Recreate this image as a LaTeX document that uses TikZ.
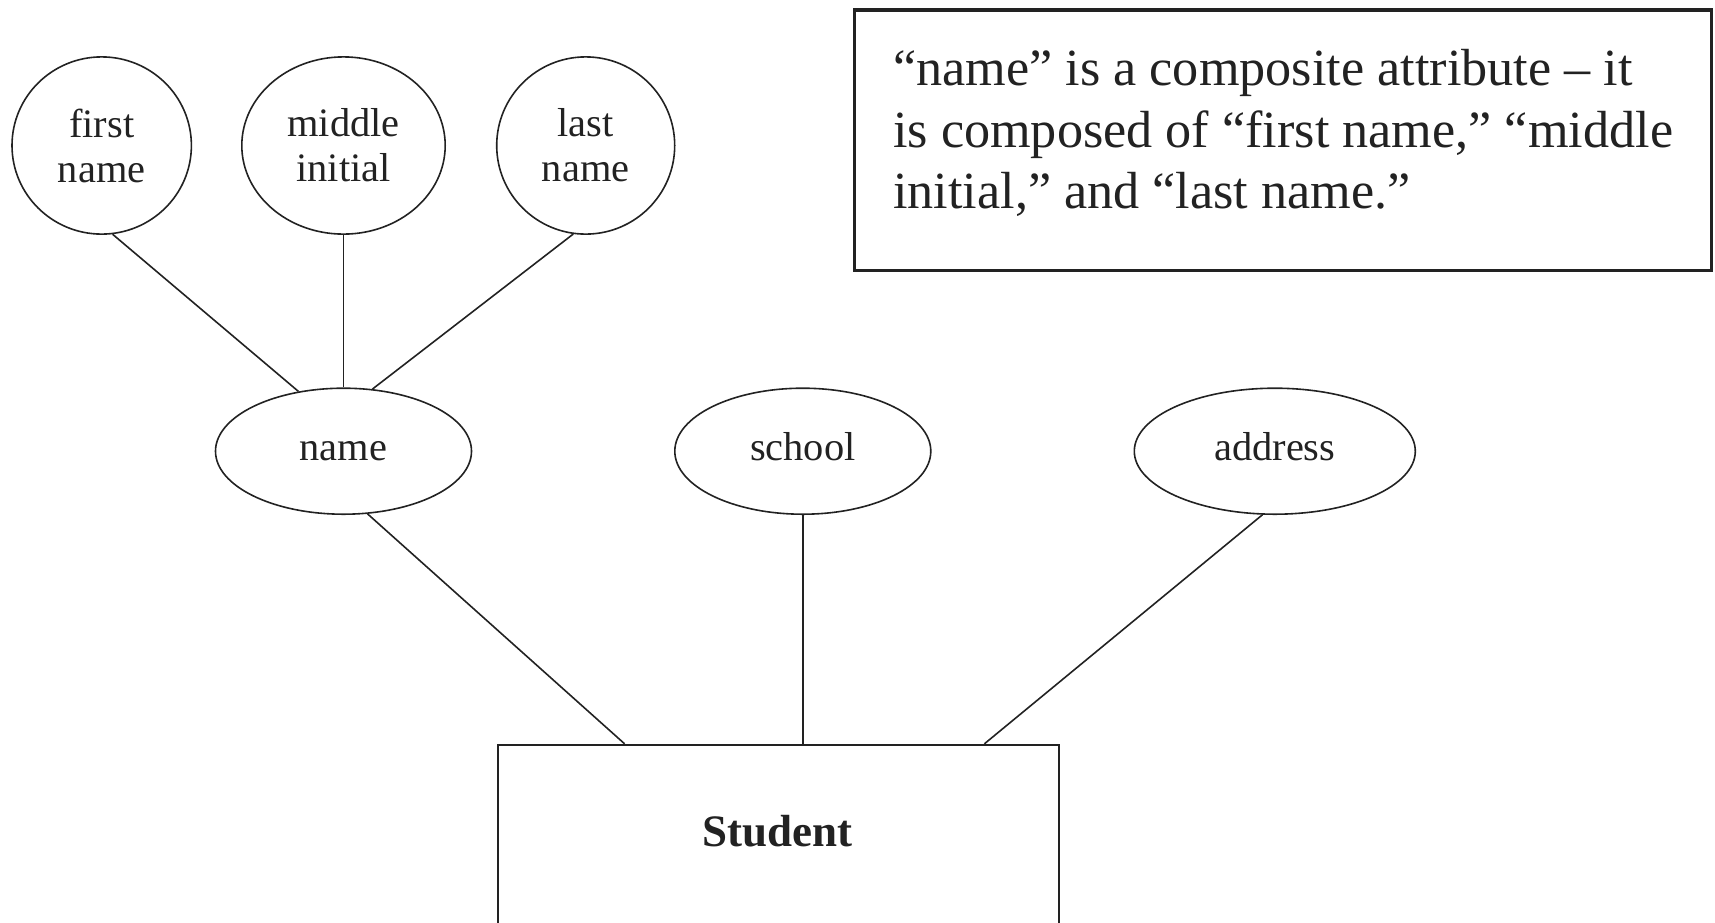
\documentclass[tikz,border=0pt]{standalone}
\usepackage{fontspec}
\setmainfont{Liberation Serif}
\usetikzlibrary{shapes.geometric}
\definecolor{ink}{HTML}{222222}
\begin{document}
\begin{tikzpicture}[x=1pt,y=-1pt,
  attr/.style={draw=ink, text=ink, ellipse, line width=1.6pt, inner sep=0pt,
    align=center, font=\fontsize{40.4}{45}\selectfont},
  oneline/.style={attr, text height=28pt, text depth=9.4pt},
  link/.style={draw=ink, line width=1.6pt},
  entity/.style={draw=ink, rectangle, line width=1.8pt, inner sep=0pt},
  notebox/.style={draw=ink, rectangle, line width=3.8pt, inner sep=0pt}]
\useasboundingbox (0,0) rectangle (1715,922);

% composite attribute parts
\node[attr, minimum width=179.4pt, minimum height=177.2pt] (first)  at (101.7,145.5) {first\\name};
\node[attr, minimum width=203.4pt, minimum height=177.2pt] (middle) at (343.5,145.5) {middle\\initial};
\node[attr, minimum width=178pt,   minimum height=177.2pt] (last)   at (585.7,145.5) {last\\name};

% attributes of the entity
\node[oneline, minimum width=256pt, minimum height=126pt] (name)    at (343.5,451.2)  {name};
\node[oneline, minimum width=256pt, minimum height=126pt] (school)  at (802.8,451.2)  {school};
\node[oneline, minimum width=281pt, minimum height=126pt] (address) at (1274.8,451.2) {address};

% entity (runs off the lower edge)
\node[entity, minimum width=561.1pt, minimum height=240pt, anchor=north] (student) at (778.3,743.8) {};
\node[text=ink, font=\bfseries\fontsize{45}{54}\selectfont, anchor=base] (studentname) at (777.5,846.7) {Student};

% note
\node[notebox, minimum width=857pt, minimum height=260.5pt, anchor=north west] (note) at (852.5,8) {};
\node[text=ink, anchor=north west, inner sep=0pt, align=left,
  font=\fontsize{52.2}{61.5}\selectfont] (notetext) at (893,49.4)
  {“name” is a composite attribute – it\\
   is composed of “first name,” “middle\\
   initial,” and “last name.”};

% connectors
\draw[link] (first.277.6)  -- (name.127.9);
\draw[link] (middle.south) -- (name.north);
\draw[link] (last.262.7)   -- (name.65.7);
\draw[link] (name.291.8)   -- ([xshift=-153.7pt]student.north);
\draw[link] (school.south) -- ([xshift=24.5pt]student.north);
\draw[link] (address.259.6) -- ([xshift=206.1pt]student.north);
\end{tikzpicture}
\end{document}
